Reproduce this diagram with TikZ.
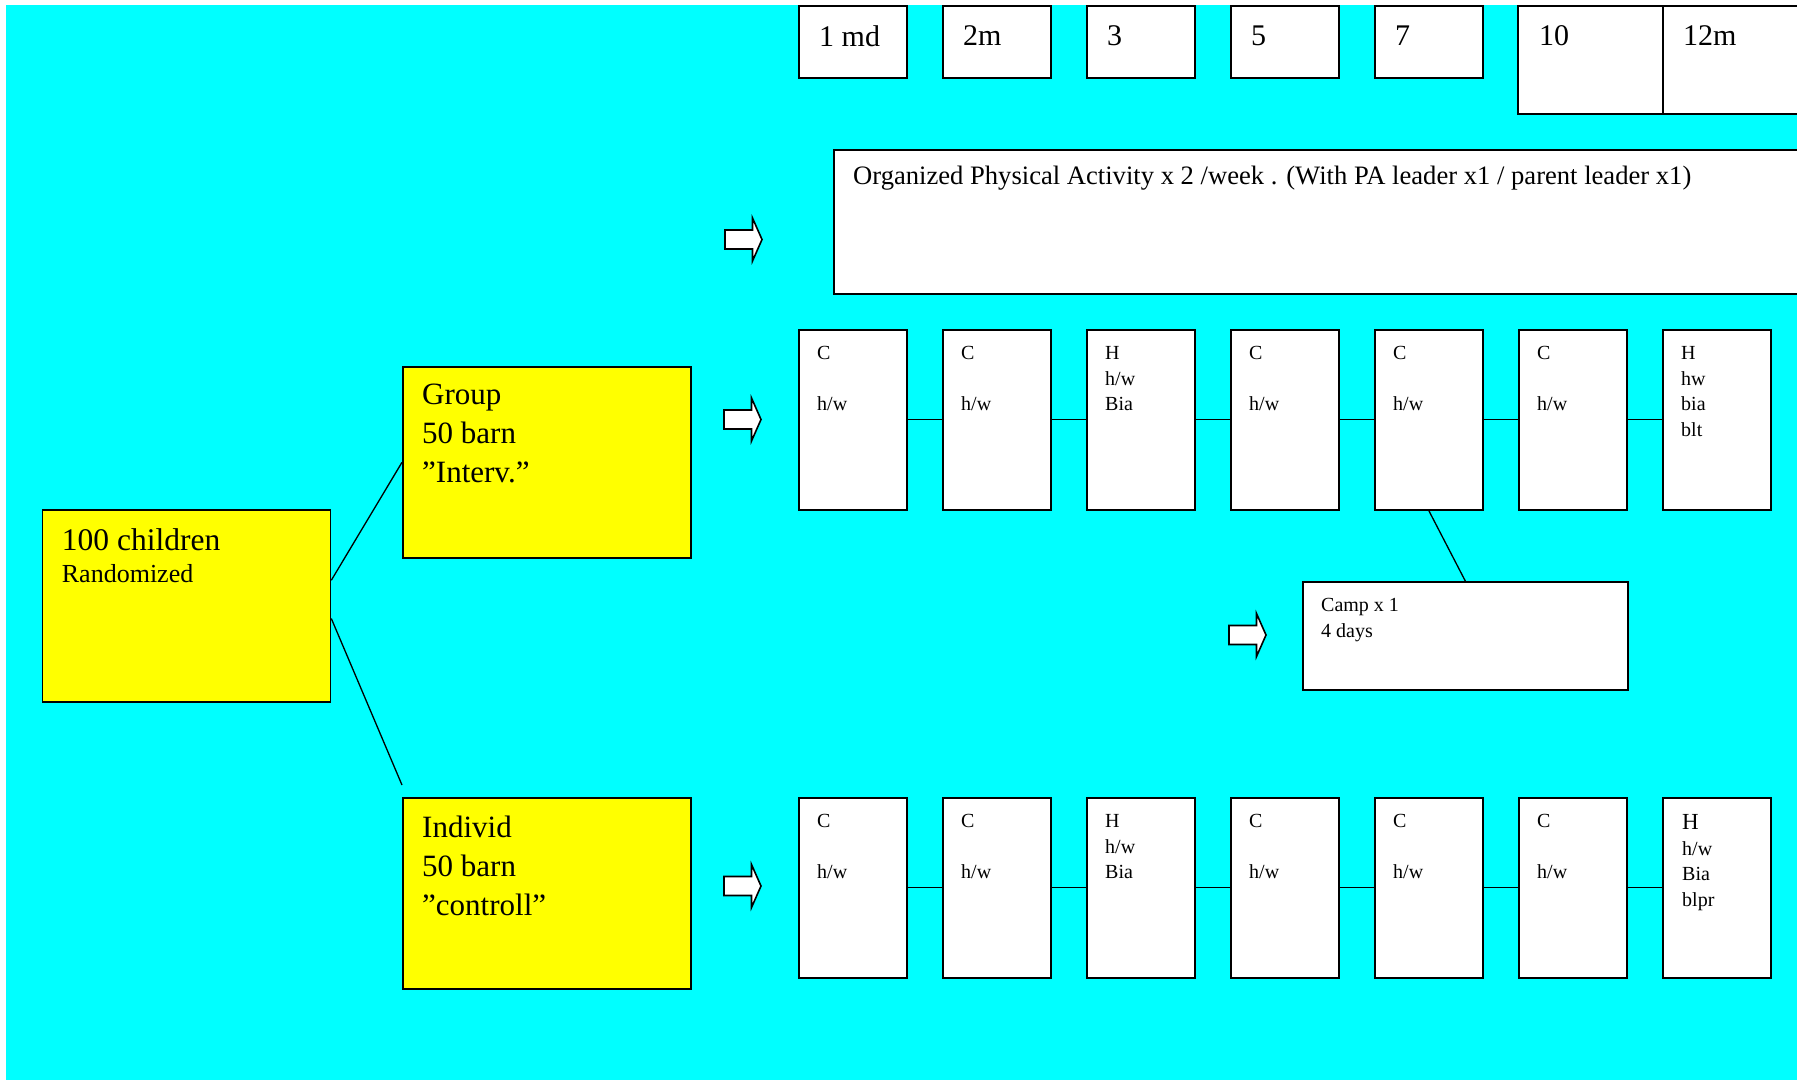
\documentclass[tikz,border=0pt]{standalone}
\usepackage{fontspec}
\setmainfont{Liberation Serif}
\usetikzlibrary{calc}
\definecolor{aqua}{RGB}{0,255,255}
\definecolor{lemon}{RGB}{255,255,0}
\tikzset{
	month/.style={draw, fill=white, line width=1.6pt, anchor=north west, inner sep=0pt, minimum width=108pt, minimum height=72pt},
	visit/.style={draw, fill=white, line width=1.6pt, anchor=north west, inner sep=0pt, minimum width=108pt, minimum height=180pt},
	arm/.style={draw, fill=lemon, line width=1.6pt, anchor=north west, inner sep=0pt, minimum width=288pt, minimum height=191pt},
	txt/.style={anchor=north west, inner sep=0pt, align=left},
	bigtxt/.style={txt, font=\fontsize{31}{39}\selectfont},
	smalltxt/.style={txt, font=\fontsize{20}{25.5}\selectfont},
	link/.style={line width=1.3pt},
	arrowbox/.style={draw, fill=white, line width=1.6pt, line join=miter}
}
\def\blockarrow(#1,#2){\draw[arrowbox] (#1,#2) ++(0,-9.5) -- ++(27.5,0) -- ++(0,-12) -- ++(9.5,21.5) -- ++(-9.5,21.5) -- ++(0,-12) -- ++(-27.5,0) -- cycle;}
\begin{document}
\begin{tikzpicture}[x=1pt, y=-1pt]
			%%%%% START %%%%%
			\clip (0,0) rectangle (1797,1080);
			\fill[aqua] (6,5) rectangle (1797,1080);
			
			% months
			\node[month] (m1) at (798,5) {};
			\node[month] (m2) at (942,5) {};
			\node[month] (m3) at (1086,5) {};
			\node[month] (m4) at (1230,5) {};
			\node[month] (m5) at (1374,5) {};
			\node[month, minimum width=145pt, minimum height=108pt] (m6) at (1517,5) {};
			\node[month, minimum width=180pt, minimum height=108pt] (m7) at (1662,5) {};
			\node[txt, font=\fontsize{30}{36}\selectfont] (m1t) at ($(m1.north west)+(21,20.6)$) {1 md};
			\node[txt, font=\fontsize{30}{36}\selectfont] (m2t) at ($(m2.north west)+(21,20.6)$) {2m};
			\node[txt, font=\fontsize{30}{36}\selectfont] (m3t) at ($(m3.north west)+(21,20.6)$) {3};
			\node[txt, font=\fontsize{30}{36}\selectfont] (m4t) at ($(m4.north west)+(21,20.6)$) {5};
			\node[txt, font=\fontsize{30}{36}\selectfont] (m5t) at ($(m5.north west)+(21,20.6)$) {7};
			\node[txt, font=\fontsize{30}{36}\selectfont] (m6t) at ($(m6.north west)+(22,20.6)$) {10};
			\node[txt, font=\fontsize{30}{36}\selectfont] (m7t) at ($(m7.north west)+(21,20.6)$) {12m};
			
			% activity
			\node[draw, fill=white, line width=1.6pt, anchor=north west, inner sep=0pt, minimum width=1000pt, minimum height=144pt] (pa) at (833,149) {};
			\node[txt, font=\fontsize{26.6}{30}\selectfont] (pat) at ($(pa.north west)+(20,17)$) {Organized Physical Activity x 2 /week . (With PA leader x1 / parent leader x1)};
			\blockarrow(725,239.5)
			
			% arms
			\node[arm, minimum height=192pt] (rand) at (41.7,509) {};
			\node[txt, font=\fontsize{31.5}{32}\selectfont] (randt) at ($(rand.north west)+(20,19.5)$) {100 children\\{\fontsize{26}{32}\selectfont Randomized}};
			\node[arm] (grp) at (402,366) {};
			\node[bigtxt] (grpt) at ($(grp.north west)+(20,18)$) {Group\\50 barn\\”Interv.”};
			\node[arm] (ind) at (402,797) {};
			\node[bigtxt] (indt) at ($(ind.north west)+(20,19)$) {Individ\\50 barn\\”controll”};
			\coordinate (indtop) at ($(ind.north west)+(0,-12)$);
			\draw[link] (rand.10.6) -- (grp.west);
			\draw[link] (rand.-5.2) -- (indtop);
			
			% group visits
			\blockarrow(724,419.5)
			\node[visit] (g1) at (798,329) {};
			\node[visit] (g2) at (942,329) {};
			\node[visit] (g3) at (1086,329) {};
			\node[visit] (g4) at (1230,329) {};
			\node[visit] (g5) at (1374,329) {};
			\node[visit] (g6) at (1518,329) {};
			\node[visit] (g7) at (1662,329) {};
			\draw[link] (g1) -- (g2);
			\draw[link] (g2) -- (g3);
			\draw[link] (g3) -- (g4);
			\draw[link] (g4) -- (g5);
			\draw[link] (g5) -- (g6);
			\draw[link] (g6) -- (g7);
			\node[smalltxt] (g1t) at ($(g1.north west)+(19,17.5)$) {C\\[25.5pt]h/w};
			\node[smalltxt] (g2t) at ($(g2.north west)+(19,17.5)$) {C\\[25.5pt]h/w};
			\node[smalltxt] (g3t) at ($(g3.north west)+(19,17.5)$) {H\\h/w\\Bia};
			\node[smalltxt] (g4t) at ($(g4.north west)+(19,17.5)$) {C\\[25.5pt]h/w};
			\node[smalltxt] (g5t) at ($(g5.north west)+(19,17.5)$) {C\\[25.5pt]h/w};
			\node[smalltxt] (g6t) at ($(g6.north west)+(19,17.5)$) {C\\[25.5pt]h/w};
			\node[smalltxt] (g7t) at ($(g7.north west)+(19,17.5)$) {H\\hw\\bia\\blt};
			
			% camp
			\node[draw, fill=white, line width=1.6pt, anchor=north west, inner sep=0pt, minimum width=325pt, minimum height=108pt] (camp) at (1302,581) {};
			\node[smalltxt] (campt) at ($(camp.north west)+(19,17.5)$) {Camp x 1\\4 days};
			\draw[link] (g5.south) -- (camp.north);
			\blockarrow(1229,635)
			
			% control visits
			\blockarrow(724,886)
			\node[visit] (c1) at (798,797) {};
			\node[visit] (c2) at (942,797) {};
			\node[visit] (c3) at (1086,797) {};
			\node[visit] (c4) at (1230,797) {};
			\node[visit] (c5) at (1374,797) {};
			\node[visit] (c6) at (1518,797) {};
			\node[visit] (c7) at (1662,797) {};
			\draw[link] (c1) -- (c2);
			\draw[link] (c2) -- (c3);
			\draw[link] (c3) -- (c4);
			\draw[link] (c4) -- (c5);
			\draw[link] (c5) -- (c6);
			\draw[link] (c6) -- (c7);
			\node[smalltxt] (c1t) at ($(c1.north west)+(19,17.5)$) {C\\[25.5pt]h/w};
			\node[smalltxt] (c2t) at ($(c2.north west)+(19,17.5)$) {C\\[25.5pt]h/w};
			\node[smalltxt] (c3t) at ($(c3.north west)+(19,17.5)$) {H\\h/w\\Bia};
			\node[smalltxt] (c4t) at ($(c4.north west)+(19,17.5)$) {C\\[25.5pt]h/w};
			\node[smalltxt] (c5t) at ($(c5.north west)+(19,17.5)$) {C\\[25.5pt]h/w};
			\node[smalltxt] (c6t) at ($(c6.north west)+(19,17.5)$) {C\\[25.5pt]h/w};
			\node[smalltxt] (c7t) at ($(c7.north west)+(20,17.5)$) {{\fontsize{23}{25.5}\selectfont H}\\h/w\\Bia\\blpr};
			
			%%%%% END %%%%%
\end{tikzpicture}
\end{document}
